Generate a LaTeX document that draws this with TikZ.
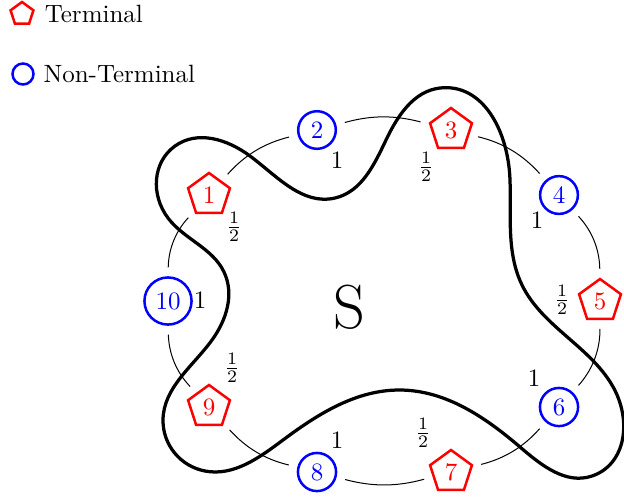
\documentclass[tikz,border=0pt]{standalone}
\usetikzlibrary{shapes.geometric,positioning,hobby}

\tikzset{
  terminal/.style={regular polygon, regular polygon sides=5, draw=red, text=red,
    line width=1pt, minimum size=17.6pt, inner sep=0pt},
  nonterminal/.style={circle, draw=blue, text=blue, line width=1pt,
    minimum size=14pt, inner sep=2.4pt},
  link/.style={thin, shorten <=3.5pt, shorten >=3.5pt},
  weight/.style={inner sep=1pt},
}

\begin{document}
\begin{tikzpicture}[x=0.4pt, y=-0.4pt]
		\useasboundingbox (0,0) rectangle (624,496);
		% legend
		\node[terminal, minimum size=9.6pt] (lt) at (22,14) {};
		\node[right=1pt of lt] (ltext) {Terminal};
		\node[nonterminal, minimum size=8.4pt, inner sep=0pt] (ln) at (23,74) {};
		\node[right=0pt of ln] (lntext) {Non-Terminal};
		% the set S
		\draw[line width=1.3pt, use Hobby shortcut, closed=true]
			(440,88) .. (510,180) .. (522,285) .. (612,385) .. (592,476)
			.. (520,447) .. (400,390) .. (283,440) .. (205,471) .. (163,420)
			.. (212,340) .. (224,272) .. (168,218) .. (175,146) .. (250,156)
			.. (335,198) .. (386,140);
		\node (S) at (349,307) {\Huge S};
		% nodes
		\node[terminal] (1) at (209,195) {1};
		\node[nonterminal] (2) at (317,130) {2};
		\node[terminal] (3) at (451,130) {3};
		\node[nonterminal] (4) at (559,195) {4};
		\node[terminal] (5) at (600,301) {5};
		\node[nonterminal] (6) at (559,407) {6};
		\node[terminal] (7) at (451,472) {7};
		\node[nonterminal] (8) at (317,472) {8};
		\node[terminal] (9) at (209,407) {9};
		\node[nonterminal] (10) at (168,301) {10};
		% weights
		\node[weight] (w1) at (234,227) {$\frac{1}{2}$};
		\node[weight] (w2) at (337,160) {$1$};
		\node[weight] (w3) at (426,167) {$\frac{1}{2}$};
		\node[weight] (w4) at (537,220) {$1$};
		\node[weight] (w5) at (562,300) {$\frac{1}{2}$};
		\node[weight] (w6) at (534,378) {$1$};
		\node[weight] (w7) at (423,433) {$\frac{1}{2}$};
		\node[weight] (w8) at (337,440) {$1$};
		\node[weight] (w9) at (232,368) {$\frac{1}{2}$};
		\node[weight] (w10) at (200,300) {$1$};
		% cycle
		\draw[link] (10) to[bend left=21] (1);
		\draw[link] (1) to[bend left=17] (2);
		\draw[link] (2) to[bend left=15] (3);
		\draw[link] (3) to[bend left=17] (4);
		\draw[link] (4) to[bend left=21] (5);
		\draw[link] (5) to[bend left=21] (6);
		\draw[link] (6) to[bend left=17] (7);
		\draw[link] (7) to[bend left=15] (8);
		\draw[link] (8) to[bend left=17] (9);
		\draw[link] (9) to[bend left=21] (10);
	\end{tikzpicture}
\end{document}
